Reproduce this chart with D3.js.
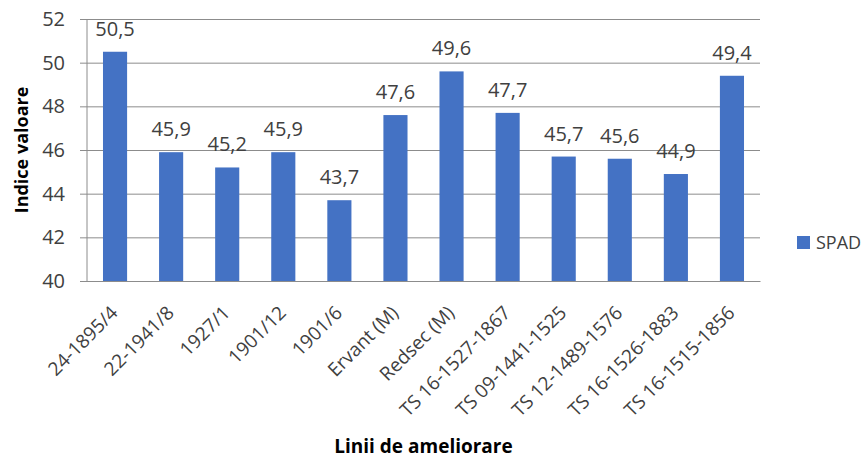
<!DOCTYPE html>
<html>
<head>
<meta charset="utf-8">
<script src="https://cdn.jsdelivr.net/npm/d3@7"></script>
<style>
  html, body { margin: 0; padding: 0; background: #fff; }
  svg { display: block; font-family: "Open Sans", "Noto Sans", sans-serif; }
</style>
</head>
<body>
<svg id="chart" width="867" height="462"></svg>
<script>
// Breeding lines and their SPAD index values
const categories = ["24-1895/4", "22-1941/8", "1927/1", "1901/12", "1901/6", "Ervant (M)",
  "Redsec (M)", "TS 16-1527-1867", "TS 09-1441-1525", "TS 12-1489-1576", "TS 16-1526-1883", "TS 16-1515-1856"];
const spadValues = [50.5, 45.9, 45.2, 45.9, 43.7, 47.6, 49.6, 47.7, 45.7, 45.6, 44.9, 49.4];
const yTicks = [40, 42, 44, 46, 48, 50, 52];
const seriesName = "SPAD";
const yTitle = "Indice valoare";
const xTitle = "Linii de ameliorare";

const svg = d3.select("#chart");
const plot = { left: 87, right: 760, top: 19, bottom: 281 };
const barColor = "#4472C4";
const textColor = "#404040";

const x = d3.scaleBand().domain(categories).range([plot.left, plot.right])
  .paddingInner(0.57).paddingOuter(0.285);
const y = d3.scaleLinear().domain([40, 52]).range([plot.bottom, plot.top]);

const fmt = v => d3.format(".1f")(v).replace(".", ",");

// horizontal gridlines with small outward ticks
const yAxis = d3.axisLeft(y).tickValues(yTicks).tickSize(-(plot.right - plot.left)).tickSizeOuter(0).tickPadding(22);
const gy = svg.append("g").attr("transform", `translate(${plot.left},0)`).call(yAxis);
gy.select(".domain").remove();
gy.selectAll(".tick line").attr("stroke", "#8c8c8c").attr("stroke-width", 1).attr("x1", -7);
gy.selectAll(".tick text").attr("fill", textColor).style("font-size", "20px").attr("font-family", "Open Sans, sans-serif");

// vertical axis line
svg.append("line").attr("x1", plot.left).attr("x2", plot.left)
  .attr("y1", plot.top).attr("y2", plot.bottom).attr("stroke", "#8c8c8c");

// bars
svg.append("g").selectAll("rect").data(spadValues).join("rect")
  .attr("x", (d, i) => x(categories[i]))
  .attr("width", x.bandwidth())
  .attr("y", d => y(d))
  .attr("height", d => y(40) - y(d))
  .attr("fill", barColor);

// value labels
svg.append("g").selectAll("text").data(spadValues).join("text")
  .attr("x", (d, i) => x(categories[i]) + x.bandwidth() / 2)
  .attr("y", d => y(d) - 16)
  .attr("text-anchor", "middle")
  .attr("fill", textColor)
  .style("font-size", "20px")
  .text(d => fmt(d));

// category axis, labels rotated 45 degrees
const xAxis = d3.axisBottom(x).tickSize(0).tickSizeOuter(0);
const gx = svg.append("g").attr("transform", `translate(0,${plot.bottom})`).call(xAxis);
gx.select(".domain").attr("stroke", "#8c8c8c");
gx.selectAll(".tick text")
  .attr("fill", textColor)
  .style("font-size", "19px")
  .attr("font-family", "Open Sans, sans-serif")
  .attr("text-anchor", "end")
  .attr("dy", null)
  .attr("y", 0)
  .attr("transform", "translate(4,33) rotate(-45)");

// axis titles
svg.append("text")
  .attr("transform", `translate(28,${(plot.top + plot.bottom) / 2}) rotate(-90)`)
  .attr("text-anchor", "middle")
  .attr("fill", "#000")
  .style("font-size", "18px").style("font-weight", "bold")
  .text(yTitle);

svg.append("text")
  .attr("x", (plot.left + plot.right) / 2).attr("y", 453)
  .attr("text-anchor", "middle")
  .attr("fill", "#000")
  .style("font-size", "19px").style("font-weight", "bold")
  .text(xTitle);

// legend
const lg = svg.append("g").attr("transform", "translate(797,236)");
lg.append("rect").attr("width", 13).attr("height", 13).attr("fill", barColor);
lg.append("text").attr("x", 19).attr("y", 13).attr("fill", textColor)
  .style("font-size", "18px").text(seriesName);
</script>
</body>
</html>
